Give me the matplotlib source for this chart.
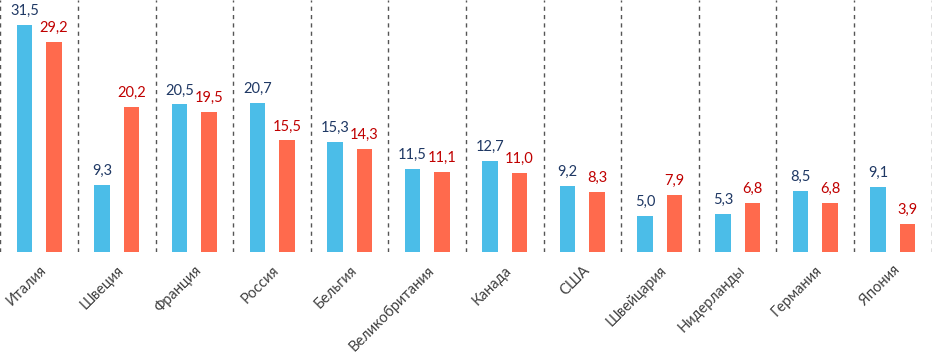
import matplotlib
matplotlib.use('Agg')
import matplotlib.pyplot as plt
import numpy as np

# данные
countries = ['Италия', 'Швеция', 'Франция', 'Россия', 'Бельгия', 'Великобритания',
             'Канада', 'США', 'Швейцария', 'Нидерланды', 'Германия', 'Япония']
series_1 = [31.5, 9.3, 20.5, 20.7, 15.3, 11.5, 12.7, 9.2, 5.0, 5.3, 8.5, 9.1]
series_2 = [29.2, 20.2, 19.5, 15.5, 14.3, 11.1, 11.0, 8.3, 7.9, 6.8, 6.8, 3.9]

plt.rcParams['font.family'] = ['Lato', 'DejaVu Sans']

fig = plt.figure(figsize=(9.32, 3.52), dpi=100)
ax = fig.add_axes([0.0005, 0.284, 0.999, 0.716])

x = np.arange(len(countries))
w = 0.2
b1 = ax.bar(x - 0.19, series_1, w, color='#4BBDE8')
b2 = ax.bar(x + 0.19, series_2, w, color='#FF6A4D')

for bar, v in zip(b1, series_1):
    ax.annotate(f'{v:.1f}'.replace('.', ','), (bar.get_x() + bar.get_width() / 2, v),
                xytext=(0, 5), textcoords='offset points', ha='center', va='bottom',
                fontsize=10.5, color='#1F3864')
for bar, v in zip(b2, series_2):
    ax.annotate(f'{v:.1f}'.replace('.', ','), (bar.get_x() + bar.get_width() / 2, v),
                xytext=(0, 5), textcoords='offset points', ha='center', va='bottom',
                fontsize=10.5, color='#C00000')

# пунктирные разделители
for b in np.arange(-0.5, len(countries), 1.0):
    ax.axvline(b, color='#555555', linestyle=(0, (3, 3)), linewidth=1)

ax.set_xlim(-0.5, len(countries) - 0.5)
ax.set_ylim(0, 35)
ax.set_xticks(x)
ax.set_xticklabels(countries, rotation=45, ha='right', va='top', rotation_mode='anchor',
                   fontsize=10.5, color='#404040')
ax.tick_params(axis='x', length=0, pad=8)
ax.set_yticks([])
for s in ax.spines.values():
    s.set_visible(False)

fig.savefig('out.png', dpi=100)
